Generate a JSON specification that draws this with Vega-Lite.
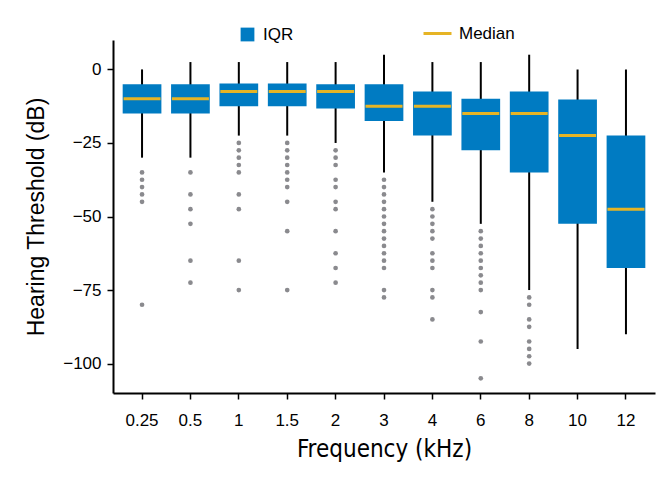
{
  "$schema": "https://vega.github.io/schema/vega-lite/v6.json",
  "width": 542,
  "height": 353,
  "autosize": {"type": "none"},
  "padding": {"left": 113, "top": 40, "right": 12, "bottom": 84},
  "background": "white",
  "config": {
    "view": {"stroke": null},
    "font": "Liberation Sans",
    "axis": {"grid": false, "domainColor": "black", "domainWidth": 2, "tickColor": "black", "tickWidth": 1.5, "tickSize": 6, "labelColor": "black", "labelFont": "Liberation Sans", "labelFontSize": 17, "titleColor": "black", "titleFontWeight": "normal"},
    "legend": {"labelFont": "Liberation Sans", "labelFontSize": 17, "labelColor": "black"}
  },
  "datasets": {
    "stats": [
      {"freq": "0.25", "lower": -30, "q1": -15, "median": -10, "q3": -5, "upper": 0},
      {"freq": "0.5", "lower": -30, "q1": -15, "median": -10, "q3": -5, "upper": 2.5},
      {"freq": "1", "lower": -22.5, "q1": -12.5, "median": -7.5, "q3": -4.8, "upper": 2.5},
      {"freq": "1.5", "lower": -22.5, "q1": -12.5, "median": -7.5, "q3": -4.8, "upper": 2.5},
      {"freq": "2", "lower": -25, "q1": -13.3, "median": -7.5, "q3": -5, "upper": 2.5},
      {"freq": "3", "lower": -35, "q1": -17.5, "median": -12.5, "q3": -5, "upper": 5},
      {"freq": "4", "lower": -45, "q1": -22.5, "median": -12.5, "q3": -7.5, "upper": 2.5},
      {"freq": "6", "lower": -52.5, "q1": -27.5, "median": -15, "q3": -10, "upper": 2.5},
      {"freq": "8", "lower": -75, "q1": -35, "median": -15, "q3": -7.5, "upper": 5},
      {"freq": "10", "lower": -95, "q1": -52.5, "median": -22.5, "q3": -10.2, "upper": 0},
      {"freq": "12", "lower": -90, "q1": -67.5, "median": -47.5, "q3": -22.5, "upper": 0}
    ],
    "outliers": [
      {"freq": "0.25", "value": -35}, {"freq": "0.25", "value": -37.5}, {"freq": "0.25", "value": -40}, {"freq": "0.25", "value": -42.5}, {"freq": "0.25", "value": -45}, {"freq": "0.25", "value": -80},
      {"freq": "0.5", "value": -35}, {"freq": "0.5", "value": -42.5}, {"freq": "0.5", "value": -47.5}, {"freq": "0.5", "value": -52.5}, {"freq": "0.5", "value": -65}, {"freq": "0.5", "value": -72.5},
      {"freq": "1", "value": -25}, {"freq": "1", "value": -27.5}, {"freq": "1", "value": -30}, {"freq": "1", "value": -32.5}, {"freq": "1", "value": -35}, {"freq": "1", "value": -42.5}, {"freq": "1", "value": -47.5}, {"freq": "1", "value": -65}, {"freq": "1", "value": -75},
      {"freq": "1.5", "value": -25}, {"freq": "1.5", "value": -27.5}, {"freq": "1.5", "value": -30}, {"freq": "1.5", "value": -32.5}, {"freq": "1.5", "value": -35}, {"freq": "1.5", "value": -37.5}, {"freq": "1.5", "value": -40}, {"freq": "1.5", "value": -45}, {"freq": "1.5", "value": -55}, {"freq": "1.5", "value": -75},
      {"freq": "2", "value": -27.5}, {"freq": "2", "value": -30}, {"freq": "2", "value": -32.5}, {"freq": "2", "value": -37.5}, {"freq": "2", "value": -40}, {"freq": "2", "value": -45}, {"freq": "2", "value": -47.5}, {"freq": "2", "value": -55}, {"freq": "2", "value": -62.5}, {"freq": "2", "value": -67.5}, {"freq": "2", "value": -72.5},
      {"freq": "3", "value": -37.5}, {"freq": "3", "value": -40}, {"freq": "3", "value": -42.5}, {"freq": "3", "value": -45}, {"freq": "3", "value": -47.5}, {"freq": "3", "value": -50}, {"freq": "3", "value": -52.5}, {"freq": "3", "value": -55}, {"freq": "3", "value": -57.5}, {"freq": "3", "value": -60}, {"freq": "3", "value": -62.5}, {"freq": "3", "value": -65}, {"freq": "3", "value": -67.5}, {"freq": "3", "value": -75}, {"freq": "3", "value": -77.5},
      {"freq": "4", "value": -47.5}, {"freq": "4", "value": -50}, {"freq": "4", "value": -52.5}, {"freq": "4", "value": -55}, {"freq": "4", "value": -57.5}, {"freq": "4", "value": -62.5}, {"freq": "4", "value": -65}, {"freq": "4", "value": -67.5}, {"freq": "4", "value": -75}, {"freq": "4", "value": -77.5}, {"freq": "4", "value": -85},
      {"freq": "6", "value": -55}, {"freq": "6", "value": -57.5}, {"freq": "6", "value": -60}, {"freq": "6", "value": -62.5}, {"freq": "6", "value": -65}, {"freq": "6", "value": -67.5}, {"freq": "6", "value": -70}, {"freq": "6", "value": -72.5}, {"freq": "6", "value": -75}, {"freq": "6", "value": -82.5}, {"freq": "6", "value": -92.5}, {"freq": "6", "value": -105},
      {"freq": "8", "value": -77.5}, {"freq": "8", "value": -80}, {"freq": "8", "value": -85}, {"freq": "8", "value": -87.5}, {"freq": "8", "value": -92.5}, {"freq": "8", "value": -95}, {"freq": "8", "value": -97.5}, {"freq": "8", "value": -100}
    ]
  },
  "encoding": {
    "x": {
      "field": "freq", "type": "nominal",
      "scale": {"domain": ["0.25", "0.5", "1", "1.5", "2", "3", "4", "6", "8", "10", "12"], "paddingInner": 0.2, "paddingOuter": 0.2},
      "title": "Frequency (kHz)",
      "axis": {"labelAngle": 0, "labelPadding": 13, "titlePadding": 9, "titleFont": "DejaVu Sans Condensed", "titleFontSize": 24}
    }
  },
  "layer": [
    {
      "data": {"name": "stats"},
      "mark": {"type": "rule", "color": "black", "strokeWidth": 2},
      "encoding": {
        "y": {
          "field": "lower", "type": "quantitative",
          "scale": {"domain": [-110, 10], "nice": false, "zero": false},
          "title": "Hearing Threshold (dB)",
          "axis": {"values": [0, -25, -50, -75, -100], "labelPadding": 6, "titlePadding": 14, "titleFont": "Liberation Sans", "titleFontSize": 23}
        },
        "y2": {"field": "upper"}
      }
    },
    {
      "data": {"name": "stats"},
      "mark": {"type": "bar"},
      "encoding": {
        "y": {"field": "q1", "type": "quantitative"},
        "y2": {"field": "q3"},
        "fill": {
          "datum": "IQR",
          "scale": {"range": ["#007bc2"]},
          "legend": {"title": null, "orient": "none", "legendX": 126, "legendY": -14, "symbolType": "square", "symbolSize": 190, "symbolStrokeWidth": 0, "labelOffset": 7}
        }
      }
    },
    {
      "data": {"name": "stats"},
      "mark": {"type": "tick", "thickness": 3, "size": 37, "fill": "#e6b425", "strokeWidth": 0, "opacity": 1},
      "encoding": {
        "y": {"field": "median", "type": "quantitative"},
        "stroke": {
          "datum": "Median",
          "scale": {"range": ["#e6b425"]},
          "legend": {"title": null, "orient": "none", "legendX": 309, "legendY": -22, "symbolType": "stroke", "symbolSize": 784, "symbolStrokeWidth": 3, "symbolOpacity": 1, "labelOffset": 6}
        }
      }
    },
    {
      "data": {"name": "outliers"},
      "mark": {"type": "circle", "size": 22, "color": "#8a8a8e", "opacity": 1},
      "encoding": {
        "y": {"field": "value", "type": "quantitative"}
      }
    }
  ]
}
